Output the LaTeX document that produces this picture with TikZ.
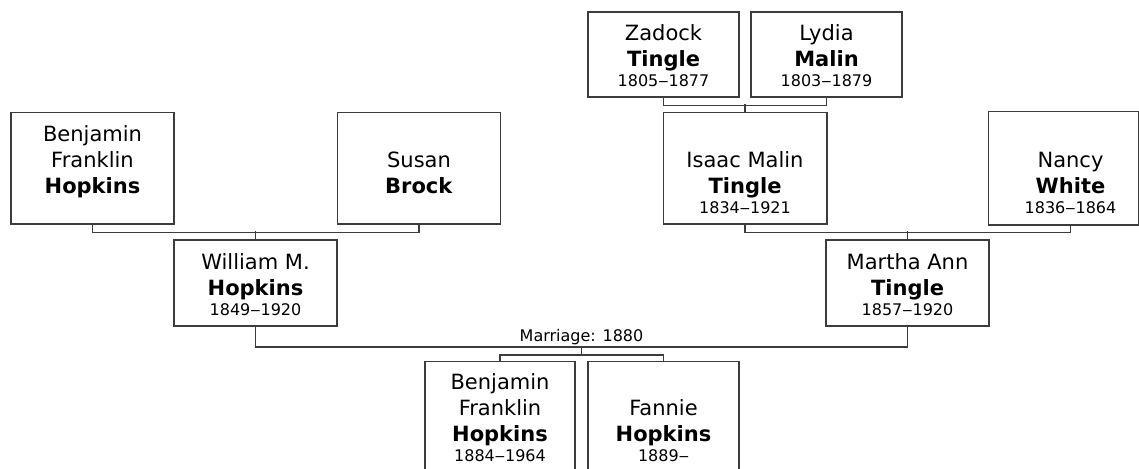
\documentclass[tikz,border=0pt]{standalone}
\usepackage{fontspec}
\setmainfont{DejaVu Sans}
\usetikzlibrary{calc}
\definecolor{linegray}{RGB}{60,60,60}
\newcommand\namefont{\fontsize{21}{26}\selectfont}
\newcommand\datefont{\fontsize{16}{20}\selectfont}
\newcommand\personbox[4]{\vbox to #1{\hsize=#2\relax\parindent=0pt\parskip=0pt\centering\vss\namefont #3\par{\datefont #4\par}\kern10.5pt}}
\tikzset{
  person/.style={draw=linegray, line width=1.5pt, inner sep=0pt, fill=white, text=black},
  link/.style={draw=linegray, line width=1.5pt},
  marrlabel/.style={inner sep=0pt, text=black, font=\datefont},
}
\begin{document}
\begin{tikzpicture}[x=1pt,y=-1pt]
\useasboundingbox (0,0) rectangle (1139,468);
\clip (0,0) rectangle (1139,468);
\fill[white] (0,0) rectangle (1139,468);
% row 1
\node[person] (zadock) at (663.5,54.5) {\personbox{85pt}{151pt}{Zadock\\\textbf{Tingle}}{1805‒1877}};
\node[person] (lydia) at (826.5,54.5) {\personbox{85pt}{151pt}{Lydia\\\textbf{Malin}}{1803‒1879}};
% row 2
\node[person] (bfsr) at (92.5,168.25) {\personbox{111.5pt}{163pt}{Benjamin\\Franklin\\\textbf{Hopkins}}{\phantom{0}}};
\node[person] (susan) at (419,168.25) {\personbox{111.5pt}{163pt}{Susan\\\textbf{Brock}}{\phantom{0}}};
\node[person] (isaac) at (745,168.25) {\personbox{111.5pt}{163.5pt}{Isaac Malin\\\textbf{Tingle}}{1834‒1921}};
\node[person, draw=none] (nancy) at (1070.5,168.25) {\personbox{111.5pt}{163pt}{Nancy\\\textbf{White}}{1836‒1864}};
\draw[link] (nancy.north west) rectangle ([xshift=-13.7pt]nancy.south east);
% row 3
\node[person] (william) at (255.5,283) {\personbox{86pt}{163pt}{William M.\\\textbf{Hopkins}}{1849‒1920}};
\node[person] (martha) at (907.5,283) {\personbox{86pt}{163pt}{Martha Ann\\\textbf{Tingle}}{1857‒1920}};
% row 4
\node[person] (bfjr) at (500,417.2) {\personbox{111pt}{150pt}{Benjamin\\Franklin\\\textbf{Hopkins}}{1884‒1964}};
\node[person] (fannie) at (663.5,417.2) {\personbox{111pt}{151pt}{Fannie\\\textbf{Hopkins}}{1889‒}};
% connectors
\draw[link] (zadock.south) -- ++(0,7.7) -| (lydia.south);
\draw[link] (isaac.north) -- ++(0,-8);
\draw[link] (bfsr.south) -- ++(0,7.7) -| (susan.south);
\draw[link] (william.north) -- ++(0,-8);
\draw[link] (isaac.south) -- ++(0,7.7) -| (nancy.south);
\draw[link] (martha.north) -- ++(0,-8);
\draw[link] (william.south) -- ++(0,20) coordinate (wbar) -- (wbar -| martha.south) coordinate (mbar) -- (martha.south);
\coordinate (mid) at ($(wbar)!0.5!(mbar)$);
\node[marrlabel, anchor=base] (marr) at ([yshift=5.3pt]mid) {Marriage: 1880};
\draw[link] (mid) -- ++(0,8.3) coordinate (cbar);
\draw[link] (bfjr.north) -- (bfjr.north |- cbar) -- (fannie.north |- cbar) -- (fannie.north);
\end{tikzpicture}
\end{document}
